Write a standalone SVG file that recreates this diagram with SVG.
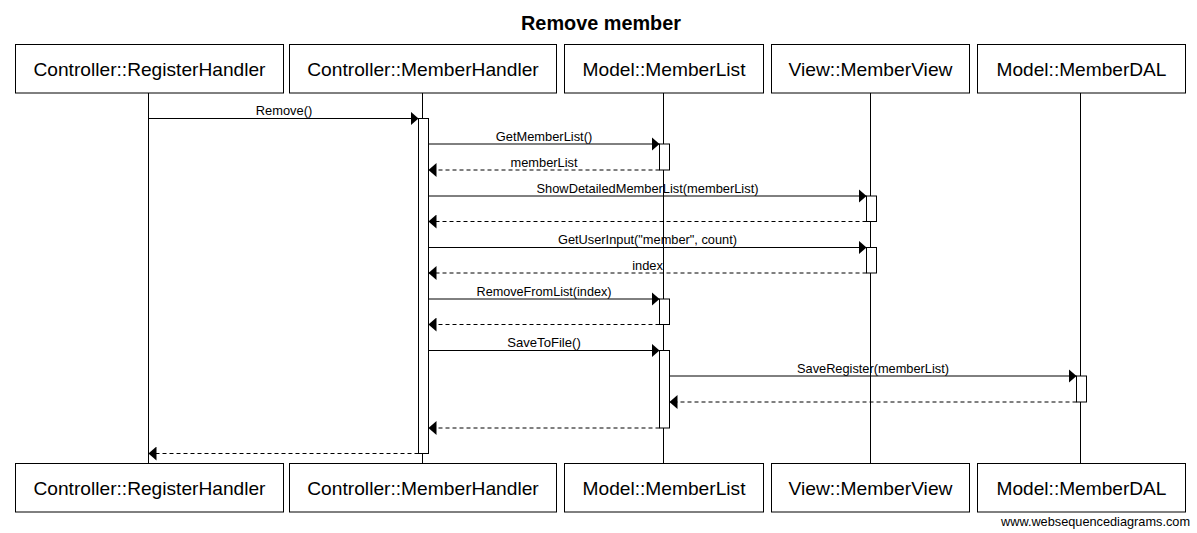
<svg xmlns="http://www.w3.org/2000/svg" width="1197" height="533" viewBox="0 0 1197 533">
<style>
.bg{fill:#fff}
.box{fill:#fff;stroke:#000;stroke-width:1}
.pt{font-family:"Liberation Sans",Arial,sans-serif;font-size:19px;fill:#000;text-anchor:middle}
.title{font-family:"Liberation Sans",Arial,sans-serif;font-size:20px;font-weight:bold;fill:#000;text-anchor:middle}
.lbl{font-family:"Liberation Sans",Arial,sans-serif;font-size:12.8px;fill:#000;text-anchor:middle}
.foot{font-family:"Liberation Sans",Arial,sans-serif;font-size:12.8px;fill:#000;text-anchor:end}
.life{stroke:#000;stroke-width:1;fill:none}
.act{fill:#fff;stroke:#000;stroke-width:1}
.msg{stroke:#000;stroke-width:1;fill:none;marker-end:url(#ah)}
.ret{stroke:#000;stroke-width:1;fill:none;stroke-dasharray:4,3;marker-end:url(#ah)}
</style>
<defs>
<marker id="ah" markerUnits="userSpaceOnUse" markerWidth="8" markerHeight="14" refX="8" refY="7" orient="auto">
<path d="M0,0 L8,7 L0,14 z" fill="#000"/>
</marker>
</defs>
<rect class="bg" x="0" y="0" width="1197" height="533"/>
<text class="title" x="601" y="30" textLength="160" lengthAdjust="spacingAndGlyphs">Remove member</text>

<g id="lifelines">
<line class="life" x1="148.5" y1="93" x2="148.5" y2="463.5"/>
<line class="life" x1="422.5" y1="93" x2="422.5" y2="463.5"/>
<line class="life" x1="663.5" y1="93" x2="663.5" y2="463.5"/>
<line class="life" x1="870.5" y1="93" x2="870.5" y2="463.5"/>
<line class="life" x1="1080.5" y1="93" x2="1080.5" y2="463.5"/>
</g>

<g id="p_registerhandler">
<rect class="box" x="15.5" y="44.5" width="268" height="48.5"/>
<text class="pt" x="149.5" y="75.5" textLength="232" lengthAdjust="spacingAndGlyphs">Controller::RegisterHandler</text>
<rect class="box" x="15.5" y="463.5" width="268" height="48.5"/>
<text class="pt" x="149.5" y="494.5" textLength="232" lengthAdjust="spacingAndGlyphs">Controller::RegisterHandler</text>
</g>
<g id="p_memberhandler">
<rect class="box" x="289.5" y="44.5" width="267" height="48.5"/>
<text class="pt" x="423" y="75.5" textLength="231.5" lengthAdjust="spacingAndGlyphs">Controller::MemberHandler</text>
<rect class="box" x="289.5" y="463.5" width="267" height="48.5"/>
<text class="pt" x="423" y="494.5" textLength="231.5" lengthAdjust="spacingAndGlyphs">Controller::MemberHandler</text>
</g>
<g id="p_memberlist">
<rect class="box" x="564.5" y="44.5" width="199" height="48.5"/>
<text class="pt" x="664" y="75.5" textLength="163" lengthAdjust="spacingAndGlyphs">Model::MemberList</text>
<rect class="box" x="564.5" y="463.5" width="199" height="48.5"/>
<text class="pt" x="664" y="494.5" textLength="163" lengthAdjust="spacingAndGlyphs">Model::MemberList</text>
</g>
<g id="p_memberview">
<rect class="box" x="771.5" y="44.5" width="198" height="48.5"/>
<text class="pt" x="870.5" y="75.5" textLength="164" lengthAdjust="spacingAndGlyphs">View::MemberView</text>
<rect class="box" x="771.5" y="463.5" width="198" height="48.5"/>
<text class="pt" x="870.5" y="494.5" textLength="164" lengthAdjust="spacingAndGlyphs">View::MemberView</text>
</g>
<g id="p_memberdal">
<rect class="box" x="977.5" y="44.5" width="208" height="48.5"/>
<text class="pt" x="1081.5" y="75.5" textLength="170" lengthAdjust="spacingAndGlyphs">Model::MemberDAL</text>
<rect class="box" x="977.5" y="463.5" width="208" height="48.5"/>
<text class="pt" x="1081.5" y="494.5" textLength="170" lengthAdjust="spacingAndGlyphs">Model::MemberDAL</text>
</g>

<g id="activations">
<rect class="act" x="418.5" y="118.5" width="10" height="335"/>
<rect class="act" x="659.5" y="144" width="10" height="26"/>
<rect class="act" x="866.5" y="196" width="10" height="25.5"/>
<rect class="act" x="866.5" y="247.5" width="10" height="25.5"/>
<rect class="act" x="659.5" y="299" width="10" height="25.5"/>
<rect class="act" x="659.5" y="350.5" width="10" height="77.5"/>
<rect class="act" x="1076.5" y="376" width="10" height="26"/>
</g>

<g id="connectors">
<line class="msg" x1="148.5" y1="118.5" x2="418.5" y2="118.5"/>
<text class="lbl" x="284" y="115" textLength="56.4" lengthAdjust="spacingAndGlyphs">Remove()</text>

<line class="msg" x1="428.5" y1="144" x2="659.5" y2="144"/>
<text class="lbl" x="544" y="140.5" textLength="96.4" lengthAdjust="spacingAndGlyphs">GetMemberList()</text>

<line class="ret" x1="659.5" y1="170" x2="428.5" y2="170"/>
<text class="lbl" x="544" y="166.5" textLength="67" lengthAdjust="spacingAndGlyphs">memberList</text>

<line class="msg" x1="428.5" y1="196" x2="866.5" y2="196"/>
<text class="lbl" x="647.5" y="192.5" textLength="222" lengthAdjust="spacingAndGlyphs">ShowDetailedMemberList(memberList)</text>

<line class="ret" x1="866.5" y1="221.5" x2="428.5" y2="221.5"/>

<line class="msg" x1="428.5" y1="247.5" x2="866.5" y2="247.5"/>
<text class="lbl" x="647.5" y="244" textLength="179" lengthAdjust="spacingAndGlyphs">GetUserInput("member", count)</text>

<line class="ret" x1="866.5" y1="273" x2="428.5" y2="273"/>
<text class="lbl" x="647.5" y="269.5" textLength="30.7" lengthAdjust="spacingAndGlyphs">index</text>

<line class="msg" x1="428.5" y1="299" x2="659.5" y2="299"/>
<text class="lbl" x="544" y="295.5" textLength="135" lengthAdjust="spacingAndGlyphs">RemoveFromList(index)</text>

<line class="ret" x1="659.5" y1="324.5" x2="428.5" y2="324.5"/>

<line class="msg" x1="428.5" y1="350.5" x2="659.5" y2="350.5"/>
<text class="lbl" x="544" y="347" textLength="73.5" lengthAdjust="spacingAndGlyphs">SaveToFile()</text>

<line class="msg" x1="669.5" y1="376" x2="1076.5" y2="376"/>
<text class="lbl" x="873" y="372.5" textLength="152" lengthAdjust="spacingAndGlyphs">SaveRegister(memberList)</text>

<line class="ret" x1="1076.5" y1="402" x2="669.5" y2="402"/>

<line class="ret" x1="659.5" y1="428" x2="428.5" y2="428"/>

<line class="ret" x1="418.5" y1="453.5" x2="148.5" y2="453.5"/>
</g>

<text class="foot" x="1190" y="526" textLength="189" lengthAdjust="spacingAndGlyphs">www.websequencediagrams.com</text>
</svg>
